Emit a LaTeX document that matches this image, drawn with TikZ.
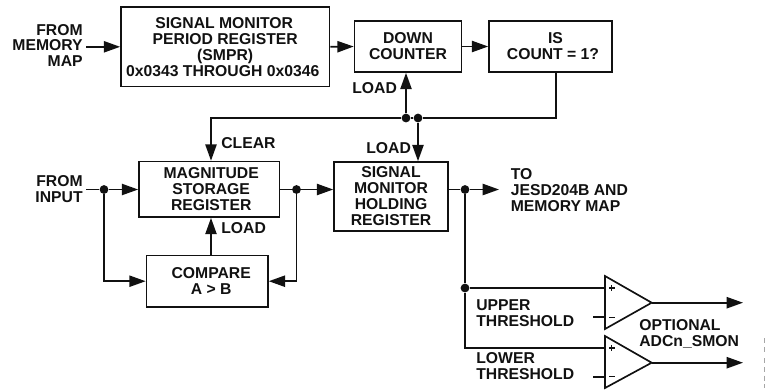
\documentclass[tikz,border=0pt]{standalone}
\usepackage{fontspec}
\setmainfont{Liberation Sans}
\usepackage{xcolor}
\usetikzlibrary{arrows.meta}
\definecolor{ink}{HTML}{111111}
\tikzset{
  wire/.style={draw=ink,line width=0.95pt,line join=miter},
  sig/.style={wire,-{Triangle[length=9.3pt,width=6.4pt]}},
  block/.style={wire,align=center,inner sep=0pt,text=ink,font=\fontsize{8.95}{9.1}\selectfont\bfseries},
  tag/.style={align=left,anchor=west,inner sep=0pt,text=ink,font=\fontsize{8.95}{9.1}\selectfont\bfseries},
  jn/.style={circle,fill=ink,inner sep=0pt,minimum size=5pt},
}
\begin{document}
\begin{tikzpicture}[x=0.02cm,y=-0.02cm]
  \useasboundingbox (0,0) rectangle (765,390);
  % blocks
  \node[block,minimum width=4.17cm,minimum height=1.59cm] (smpr) at (225.2,46.8) {SIGNAL MONITOR\hspace*{0.04cm}\\PERIOD REGISTER\hspace*{0.04cm}\\(SMPR)\hspace*{0.04cm}\\0x0343 THROUGH 0x0346\hspace*{0.1cm}};
  \node[block,minimum width=2.14cm,minimum height=1.02cm] (down) at (408,46.5) {DOWN\\COUNTER};
  \node[block,minimum width=2.46cm,minimum height=1.02cm] (iscount) at (550.5,46.5) {\hspace*{0.2cm}IS\\\hspace*{0.1cm}COUNT = 1?};
  \node[block,minimum width=2.81cm,minimum height=1.11cm] (mag) at (209.2,189.3) {\hspace*{0.08cm}MAGNITUDE\\\hspace*{0.08cm}STORAGE\\\hspace*{0.08cm}REGISTER};
  \node[block,minimum width=2.43cm,minimum height=1.03cm] (cmp) at (207.2,281.2) {\hspace*{0.16cm}COMPARE\\\hspace*{0.16cm}A > B};
  \node[block,minimum width=2.28cm,minimum height=1.38cm] (hold) at (391,196.5) {SIGNAL\\MONITOR\\HOLDING\\REGISTER};
  % labels
  \node[tag,align=right,anchor=east] (frommem) at (83,45.5) {FROM\\MEMORY\\MAP};
  \node[tag,align=right,anchor=east] (fromin) at (83,189) {FROM\\INPUT};
  \node[tag] (loadd) at (352,88.5) {LOAD};
  \node[tag] (clear) at (221,143.5) {CLEAR};
  \node[tag] (loadh) at (366,148.5) {LOAD};
  \node[tag] (loadm) at (221,228.5) {LOAD};
  \node[tag] (tojesd) at (510.5,190) {TO\\JESD204B AND\\MEMORY MAP};
  \node[tag] (upper) at (476,313) {UPPER\\THRESHOLD};
  \node[tag] (lower) at (476,366.5) {LOWER\\THRESHOLD};
  \node[tag] (opt) at (639,334) {OPTIONAL\\ADCn\_SMON};
  % junctions
  \node[jn] (ja) at (406,118) {};
  \node[jn] (jb) at (418,118) {};
  \node[jn] (jin) at (104,189.5) {};
  \node[jn] (jmag) at (296.5,189.5) {};
  \node[jn] (jhold) at (465,189.5) {};
  \node[jn] (jthr) at (465,288) {};
  % comparators
  \coordinate (upa) at (605,288);
  \coordinate (upb) at (593,317.3);
  \coordinate (upb') at (605,317.3);
  \coordinate (upo) at (651.7,302.7);
  \coordinate (upe) at (743,302.7);
  \coordinate (loa) at (605,348);
  \coordinate (lob) at (593,376.7);
  \coordinate (lob') at (605,376.7);
  \coordinate (loo) at (651.7,362.7);
  \coordinate (loe) at (743,362.7);
  \draw[wire] (605,276) -- (upo) -- (605,329) -- cycle;
  \draw[wire] (605,336) -- (loo) -- (605,388) -- cycle;
  \foreach \yy in {288,348} {
    \draw[draw=ink,line width=0.7pt] (609,\yy) -- (614.5,\yy) (611.75,\yy-2.75) -- (611.75,\yy+2.75);
  }
  \foreach \yy in {317.3,376.7} {
    \draw[draw=ink,line width=0.7pt] (609,\yy) -- (615,\yy);
  }
  % top row
  \draw[sig] (frommem.east |- smpr.west) ++(3,0) -- (smpr.west);
  \draw[sig] (smpr.east) -- (down.west);
  \draw[sig] (down.east) -- (iscount.west);
  \draw[wire] (iscount.south) ++(5.5,0) |- (jb);
  \draw[sig] (jb) -- (ja) -| (mag.north -| 211,0);
  \draw[sig] (ja) -- (ja |- down.south);
  \draw[sig] (jb) -- (jb |- hold.north);
  % middle row
  \draw[sig] (fromin.east |- jin) ++(3,0) -- (jin) -- (mag.west |- jin);
  \draw[sig] (jin) |- (cmp.west);
  \draw[sig] (mag.east |- jmag) -- (jmag) -- (hold.west |- jmag);
  \draw[sig] (jmag) |- (cmp.east);
  \draw[sig] (cmp.north -| 211,0) -- (mag.south -| 211,0);
  \draw[sig] (hold.east |- jhold) -- (jhold) -- (499,189.5);
  % thresholds
  \draw[wire] (jhold) -- (jthr) -- (upa);
  \draw[wire] (jthr) |- (loa);
  \draw[wire] (upb) -- (upb');
  \draw[wire] (lob) -- (lob');
  \draw[sig] (upo) -- (upe);
  \draw[sig] (loo) -- (loe);
  % margin mark
  \draw[gray!70,line width=0.6pt,densely dashed] (764.3,338) -- (764.3,355) (764.3,358) -- (764.3,388);
\end{tikzpicture}
\end{document}
